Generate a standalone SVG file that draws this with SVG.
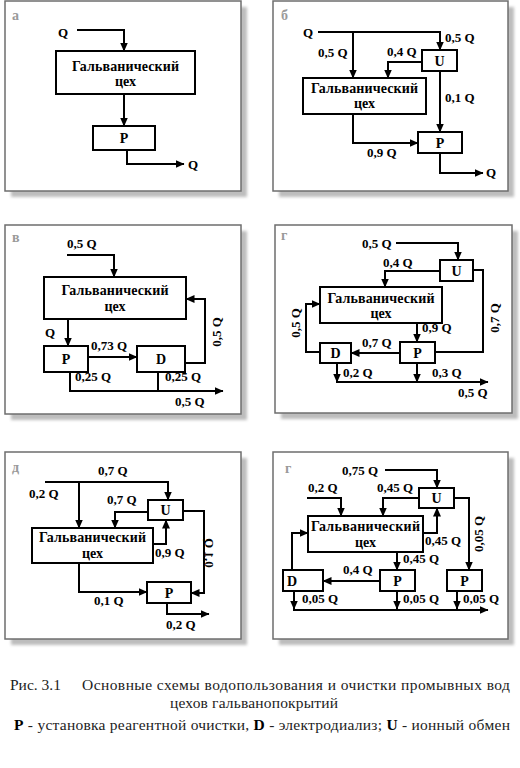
<svg xmlns="http://www.w3.org/2000/svg" width="520" height="768" viewBox="0 0 520 768" font-family="'Liberation Serif', 'Times New Roman', 'DejaVu Serif', serif">
<defs>
<marker id="ah" markerUnits="userSpaceOnUse" markerWidth="10" markerHeight="8" refX="8.5" refY="4" orient="auto">
<path d="M0,0 L9,4 L0,8 z" fill="#000"/>
</marker>
<filter id="blur" x="-5%" y="-5%" width="110%" height="110%"><feGaussianBlur stdDeviation="1.6"/></filter>
</defs>
<style>
text{font-family:'Liberation Serif','Times New Roman','DejaVu Serif',serif}
.t{font-weight:bold;font-size:13px;fill:#000}
.bt{font-weight:bold;font-size:14px;fill:#000;text-anchor:middle}
.c{text-anchor:middle}
.lbl{font-weight:bold;font-size:14px;fill:#9a9a9a}
.box{fill:#fff;stroke:#000;stroke-width:2}
.ln{fill:none;stroke:#000;stroke-width:2}
.ar{fill:none;stroke:#000;stroke-width:2;marker-end:url(#ah)}
.sh{fill:#bdbdbd;filter:url(#blur)}
.fr{fill:#fff;stroke:#6e6e6e;stroke-width:1.5}
.cap{font-size:15.5px;fill:#222}
</style>
<rect width="520" height="768" fill="#fff"/>

<!-- Panel а -->
<g id="panel-a">
<rect class="sh" x="11" y="7" width="236" height="190"/>
<rect class="fr" x="5" y="1" width="236" height="190"/>
<text class="lbl" x="12" y="20">а</text>
<g id="a-shop"><rect class="box" x="56" y="51" width="139" height="43"/>
<text class="bt" x="125.5" y="71" textLength="107" lengthAdjust="spacing">Гальванический</text>
<text class="bt" x="125.5" y="86">цех</text></g>
<g id="a-P"><rect class="box" x="93" y="126" width="62" height="24"/><text class="bt" x="124" y="143">P</text></g>
<g id="a-conn">
<path class="ar" d="M77,30 H124 V51"/>
<path class="ar" d="M124,94 V126"/>
<path class="ar" d="M127,150 V164 H184"/>
<text class="t" x="58" y="37">Q</text>
<text class="t" x="188" y="169">Q</text>
</g>
</g>

<!-- Panel б -->
<g id="panel-b">
<rect class="sh" x="279" y="7" width="235" height="190"/>
<rect class="fr" x="273" y="1" width="235" height="190"/>
<text class="lbl" x="281" y="20">б</text>
<g id="b-U"><rect class="box" x="422" y="50" width="35" height="21"/><text class="bt" x="439.5" y="65.5">U</text></g>
<g id="b-shop"><rect class="box" x="303" y="78" width="123" height="36"/>
<text class="bt" x="364.5" y="93" textLength="107" lengthAdjust="spacing">Гальванический</text>
<text class="bt" x="364.5" y="108">цех</text></g>
<g id="b-P"><rect class="box" x="418" y="132" width="44" height="21"/><text class="bt" x="440" y="147.5">P</text></g>
<g id="b-conn">
<path class="ar" d="M318,32 H440 V50"/>
<path class="ar" d="M353,32 V78"/>
<path class="ar" d="M422,62 H388 V78"/>
<path class="ar" d="M440,71 V132"/>
<path class="ar" d="M353,114 V143 H418"/>
<path class="ar" d="M440,153 V173 H483"/>
<text class="t" x="303" y="37">Q</text>
<text class="t" x="318" y="57">0,5 Q</text>
<text class="t" x="445" y="42">0,5 Q</text>
<text class="t" x="387" y="56">0,4 Q</text>
<text class="t" x="445" y="102">0,1 Q</text>
<text class="t" x="367" y="157">0,9 Q</text>
<text class="t" x="486" y="177">Q</text>
</g>
</g>

<!-- Panel в -->
<g id="panel-v">
<rect class="sh" x="11" y="231" width="236" height="189"/>
<rect class="fr" x="5" y="225" width="236" height="189"/>
<text class="lbl" x="12" y="242">в</text>
<g id="v-shop"><rect class="box" x="44" y="277" width="142" height="42"/>
<text class="bt" x="115" y="295" textLength="107" lengthAdjust="spacing">Гальванический</text>
<text class="bt" x="115" y="311">цех</text></g>
<g id="v-P"><rect class="box" x="44" y="346" width="44" height="26"/><text class="bt" x="66" y="364">P</text></g>
<g id="v-D"><rect class="box" x="137" y="346" width="48" height="26"/><text class="bt" x="161" y="364">D</text></g>
<g id="v-conn">
<path class="ar" d="M67,255 H114 V277"/>
<path class="ar" d="M68,319 V346"/>
<path class="ar" d="M88,357 H137"/>
<path class="ar" d="M185,363 H205 V299 H186"/>
<path class="ln" d="M70,372 V391"/>
<path class="ln" d="M158,372 V391"/>
<path class="ar" d="M69,391 H223"/>
<text class="t" x="67" y="248">0,5 Q</text>
<text class="t" x="45" y="337">Q</text>
<text class="t" x="91" y="350">0,73 Q</text>
<text class="t c" transform="translate(221,332) rotate(-90)">0,5 Q</text>
<text class="t" x="75" y="381">0,25 Q</text>
<text class="t" x="165" y="381">0,25 Q</text>
<text class="t" x="175" y="406">0,5 Q</text>
</g>
</g>

<!-- Panel г (upper) -->
<g id="panel-g1">
<rect class="sh" x="281" y="231" width="237" height="188"/>
<rect class="fr" x="275" y="225" width="237" height="188"/>
<text class="lbl" x="281" y="240">г</text>
<g id="g1-U"><rect class="box" x="440" y="260" width="33" height="21"/><text class="bt" x="456.5" y="275.5">U</text></g>
<g id="g1-shop"><rect class="box" x="320" y="287" width="122" height="36"/>
<text class="bt" x="381" y="303" textLength="107" lengthAdjust="spacing">Гальванический</text>
<text class="bt" x="381" y="318">цех</text></g>
<g id="g1-P"><rect class="box" x="400" y="342" width="35" height="21"/><text class="bt" x="417.5" y="357.5">P</text></g>
<g id="g1-D"><rect class="box" x="320" y="343" width="31" height="20"/><text class="bt" x="335.5" y="358">D</text></g>
<g id="g1-conn">
<path class="ar" d="M396,243 H458 V260"/>
<path class="ar" d="M440,271 H385 V287"/>
<path class="ln" d="M473,270 H483 V352 H435"/>
<path class="ar" d="M417,323 V342"/>
<path class="ar" d="M400,353 H351"/>
<path class="ar" d="M320,352 H306 V304 H320"/>
<path class="ar" d="M337,363 V382"/>
<path class="ar" d="M417,363 V382"/>
<path class="ar" d="M336,382 H488"/>
<text class="t" x="362" y="248">0,5 Q</text>
<text class="t" x="383" y="267">0,4 Q</text>
<text class="t c" transform="translate(499,318) rotate(-90)">0,7 Q</text>
<text class="t" x="422" y="332">0,9 Q</text>
<text class="t" x="362" y="347">0,7 Q</text>
<text class="t c" transform="translate(300,323) rotate(-90)">0,5 Q</text>
<text class="t" x="343" y="377">0,2 Q</text>
<text class="t" x="432" y="377">0,3 Q</text>
<text class="t" x="458" y="397">0,5 Q</text>
</g>
</g>

<!-- Panel д -->
<g id="panel-d">
<rect class="sh" x="11" y="458" width="236" height="187"/>
<rect class="fr" x="5" y="452" width="236" height="187"/>
<text class="lbl" x="12" y="472">д</text>
<g id="d-U"><rect class="box" x="148" y="500" width="35" height="20"/><text class="bt" x="165.5" y="515">U</text></g>
<g id="d-shop"><rect class="box" x="32" y="528" width="121" height="35"/>
<text class="bt" x="92.5" y="542" textLength="107" lengthAdjust="spacing">Гальванический</text>
<text class="bt" x="92.5" y="558">цех</text></g>
<g id="d-P"><rect class="box" x="147" y="582" width="44" height="21"/><text class="bt" x="169" y="597.5">P</text></g>
<g id="d-conn">
<path class="ar" d="M45,482 H168 V500"/>
<path class="ar" d="M79,482 V528"/>
<path class="ar" d="M148,512 H115 V528"/>
<path class="ar" d="M153,544 H166 V520"/>
<path class="ar" d="M183,511 H204 V593 H191"/>
<path class="ar" d="M79,563 V592 H147"/>
<path class="ar" d="M167,603 V614 H209"/>
<text class="t" x="98" y="475">0,7 Q</text>
<text class="t" x="29" y="498">0,2 Q</text>
<text class="t" x="107" y="504">0,7 Q</text>
<text class="t" x="155" y="557">0,9 Q</text>
<text class="t c" transform="matrix(0,-1,-1,0,205,553)">0,1 Q</text>
<text class="t" x="94" y="605">0,1 Q</text>
<text class="t" x="166" y="629">0,2 Q</text>
</g>
</g>

<!-- Panel г (lower) -->
<g id="panel-g2">
<rect class="sh" x="279" y="458" width="235" height="187"/>
<rect class="fr" x="273" y="452" width="235" height="187"/>
<text class="lbl" x="285" y="473">г</text>
<g id="g2-U"><rect class="box" x="419" y="488" width="35" height="20"/><text class="bt" x="436.5" y="503">U</text></g>
<g id="g2-shop"><rect class="box" x="308" y="516" width="115" height="36"/>
<text class="bt" x="365.5" y="531" textLength="109" lengthAdjust="spacing">Гальванический</text>
<text class="bt" x="365.5" y="547">цех</text></g>
<g id="g2-D"><rect class="box" x="283" y="570" width="40" height="21"/><text class="bt" x="292" y="585.5">D</text></g>
<g id="g2-P1"><rect class="box" x="380" y="570" width="35" height="21"/><text class="bt" x="397.5" y="585.5">P</text></g>
<g id="g2-P2"><rect class="box" x="447" y="570" width="35" height="21"/><text class="bt" x="464.5" y="585.5">P</text></g>
<g id="g2-conn">
<path class="ar" d="M385,470 H437 V488"/>
<path class="ar" d="M307,498 H341 V516"/>
<path class="ar" d="M419,498 H383 V516"/>
<path class="ar" d="M423,533 H437 V508"/>
<path class="ar" d="M454,498 H469 V570"/>
<path class="ar" d="M397,552 V570"/>
<path class="ar" d="M380,581 H323"/>
<path class="ar" d="M292,570 V533 H308"/>
<path class="ar" d="M294,591 V609"/>
<path class="ar" d="M397,591 V609"/>
<path class="ar" d="M457,591 V609"/>
<path class="ar" d="M293,610 H488"/>
<text class="t" x="342" y="475">0,75 Q</text>
<text class="t" x="308" y="492">0,2 Q</text>
<text class="t" x="377" y="492">0,45 Q</text>
<text class="t" x="425" y="545">0,45 Q</text>
<text class="t c" transform="translate(483,534) rotate(-90)">0,05 Q</text>
<text class="t" x="403" y="563">0,45 Q</text>
<text class="t" x="343" y="574">0,4 Q</text>
<text class="t" x="302" y="603">0,05 Q</text>
<text class="t" x="403" y="603">0,05 Q</text>
<text class="t" x="463" y="603">0,05 Q</text>
</g>
</g>

<!-- Caption -->
<g id="caption">
<text class="cap" x="10" y="690">Рис. 3.1</text>
<text class="cap" x="82" y="690" textLength="428" lengthAdjust="spacing">Основные схемы водопользования и очистки промывных вод</text>
<text class="cap" x="170" y="708" textLength="168" lengthAdjust="spacing">цехов гальванопокрытий</text>
<text class="cap" x="14" y="730" textLength="496" lengthAdjust="spacing"><tspan font-weight="bold" fill="#000">P</tspan> - установка реагентной очистки, <tspan font-weight="bold" fill="#000">D</tspan> - электродиализ; <tspan font-weight="bold" fill="#000">U</tspan> - ионный обмен</text>
</g>
</svg>
